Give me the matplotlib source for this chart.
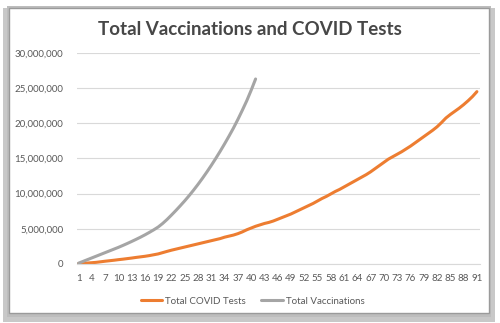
import matplotlib.pyplot as plt
from matplotlib.patches import Rectangle
from matplotlib.ticker import FuncFormatter

# Dane (w milionach)
covid_tests = [0.05, 0.08, 0.12, 0.17, 0.22, 0.30, 0.38, 0.45, 0.52, 0.60,
               0.67, 0.75, 0.83, 0.92, 1.00, 1.08, 1.18, 1.30, 1.42, 1.60,
               1.78, 1.95, 2.10, 2.25, 2.40, 2.55, 2.70, 2.85, 3.00, 3.15,
               3.30, 3.45, 3.60, 3.80, 3.95, 4.10, 4.30, 4.55, 4.85, 5.10,
               5.35, 5.55, 5.75, 5.90, 6.10, 6.35, 6.60, 6.85, 7.10, 7.40,
               7.70, 8.00, 8.30, 8.60, 8.95, 9.30, 9.60, 9.95, 10.30, 10.60,
               10.95, 11.30, 11.65, 12.00, 12.35, 12.70, 13.10, 13.55, 14.00, 14.45,
               14.90, 15.25, 15.60, 15.95, 16.35, 16.75, 17.20, 17.65, 18.10, 18.55,
               19.00, 19.50, 20.10, 20.75, 21.25, 21.70, 22.15, 22.65, 23.20, 23.80,
               24.50]
vaccinations = [0.10, 0.35, 0.60, 0.85, 1.10, 1.35, 1.60, 1.85, 2.10, 2.35,
                2.62, 2.90, 3.19, 3.49, 3.80, 4.13, 4.48, 4.85, 5.25, 5.75,
                6.32, 6.95, 7.60, 8.28, 8.98, 9.72, 10.50, 11.32, 12.18, 13.08,
                14.02, 15.00, 16.02, 17.08, 18.18, 19.32, 20.55, 21.85, 23.20, 24.70,
                26.30]
days_tests = list(range(1, len(covid_tests) + 1))
days_vacc = list(range(1, len(vaccinations) + 1))
x_labels = list(range(1, 92, 3))
y_ticks = [0, 5, 10, 15, 20, 25, 30]

plt.rcParams['font.family'] = ['Lato', 'DejaVu Sans']
text_color = '#595959'

fig = plt.figure(figsize=(5, 3.23), dpi=100)
fig.patch.set_facecolor('white')

# Ramka z cieniem
W, H = 500, 323
fig.patches.append(Rectangle((3 / W, 1 / H), 492 / W, 314 / H, transform=fig.transFigure,
                             facecolor='#c8c8c8', edgecolor='none', zorder=-3))
fig.patches.append(Rectangle((7 / W, 6 / H), 484 / W, 311 / H, transform=fig.transFigure,
                             facecolor='#bdbdbd', edgecolor='none', zorder=-2))
fig.patches.append(Rectangle((9 / W, 10 / H), 480 / W, 305 / H, transform=fig.transFigure,
                             facecolor='white', edgecolor='#9a9a9a', linewidth=1.0, zorder=-1))

ax = fig.add_axes([0.154, 0.183, 0.806, 0.653])
ax.set_facecolor('none')
ax.plot(days_tests, [v * 1e6 for v in covid_tests], color='#ED7D31', linewidth=2.2,
        label='Total COVID Tests', solid_capstyle='round')
ax.plot(days_vacc, [v * 1e6 for v in vaccinations], color='#A5A5A5', linewidth=2.2,
        label='Total Vaccinations', solid_capstyle='round')

ax.set_xlim(0.65, 91.7)
ax.set_ylim(0, 30e6)
ax.set_xticks(x_labels)
ax.set_yticks([v * 1e6 for v in y_ticks])
ax.yaxis.set_major_formatter(FuncFormatter(lambda v, p: f'{v:,.0f}'))
ax.tick_params(axis='both', length=0, labelsize=7, labelcolor=text_color)
ax.tick_params(axis='x', pad=7)
ax.tick_params(axis='y', pad=10)
ax.grid(axis='y', color='#d9d9d9', linewidth=0.8)
for s in ['top', 'right', 'left']:
    ax.spines[s].set_visible(False)
ax.spines['bottom'].set_color('#d9d9d9')
ax.spines['bottom'].set_linewidth(0.8)
ax.set_axisbelow(True)

fig.text(0.5, 0.91, 'Total Vaccinations and COVID Tests', ha='center', va='center',
         fontsize=13.5, fontweight='bold', color='#474747')

fig.legend(loc='center', bbox_to_anchor=(0.505, 0.068), ncol=2, frameon=False,
           fontsize=7, labelcolor=text_color, handlelength=2.2, handletextpad=0.3,
           columnspacing=1.6)

fig.savefig('out.png', dpi=100)
